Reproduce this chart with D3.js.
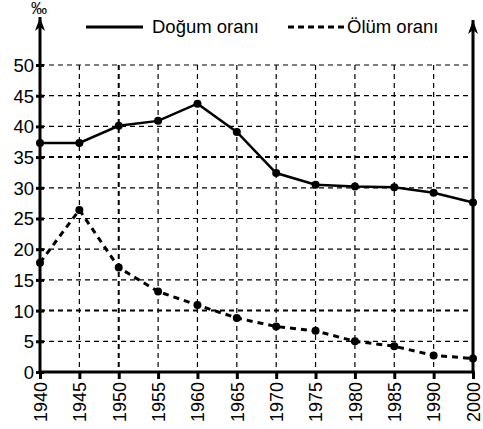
<!DOCTYPE html>
<html>
<head>
<meta charset="utf-8">
<script src="https://d3js.org/d3.v7.min.js"></script>
<style>
  body { margin: 0; background: #fff; }
  text { font-family: "Liberation Sans", Arial, sans-serif; fill: #000; }
</style>
</head>
<body>
<div id="chart"></div>
<script>
// years on the x axis (equally spaced, 2000 follows 1990)
const years = ["1940", "1945", "1950", "1955", "1960", "1965", "1970", "1975", "1980", "1985", "1990", "2000"];
// birth rate (‰)
const birthRate = [37.3, 37.3, 40.1, 40.9, 43.7, 39.1, 32.4, 30.5, 30.2, 30.1, 29.2, 27.6];
// death rate (‰)
const deathRate = [17.8, 26.4, 17.0, 13.1, 10.9, 8.8, 7.4, 6.7, 5.0, 4.2, 2.7, 2.2];
const yTicks = [0, 5, 10, 15, 20, 25, 30, 35, 40, 45, 50];
const boldLines = [10, 35];

const width = 483, height = 429;
const margin = { top: 65, right: 10, bottom: 57, left: 40 };

const svg = d3.select("#chart").append("svg")
  .attr("width", width)
  .attr("height", height);

const x = d3.scalePoint()
  .domain(years)
  .range([margin.left, width - margin.right]);

const y = d3.scaleLinear()
  .domain([0, 50])
  .range([height - margin.bottom, margin.top]);

const x0 = x(years[0]), x1 = x(years[years.length - 1]);
const yBase = y(0);

// horizontal grid
svg.append("g")
  .selectAll("line")
  .data(yTicks.filter(d => d > 0))
  .join("line")
    .attr("x1", x0).attr("x2", x1)
    .attr("y1", d => y(d)).attr("y2", d => y(d))
    .attr("stroke", "#000")
    .attr("stroke-width", d => boldLines.includes(d) ? 2 : 1.2)
    .attr("stroke-dasharray", "5,4");

// vertical grid
svg.append("g")
  .selectAll("line")
  .data(years.slice(1, -1))
  .join("line")
    .attr("x1", d => x(d)).attr("x2", d => x(d))
    .attr("y1", y(50)).attr("y2", yBase)
    .attr("stroke", "#000")
    .attr("stroke-width", d => d === "1950" ? 2 : 1.2)
    .attr("stroke-dasharray", "5,4");

// arrow marker
svg.append("defs").append("marker")
  .attr("id", "arrow")
  .attr("viewBox", "0 0 10 14")
  .attr("refX", 5).attr("refY", 0)
  .attr("markerWidth", 10).attr("markerHeight", 14)
  .attr("markerUnits", "userSpaceOnUse")
  .attr("orient", "0")
  .append("path")
    .attr("d", "M0,14 L5,0 L10,14 L5,10 Z")
    .attr("fill", "#000");

// left and right axis with arrows
[x0, x1].forEach(xx => {
  svg.append("line")
    .attr("x1", xx).attr("x2", xx)
    .attr("y1", yBase + 1).attr("y2", xx === x0 ? 17 : 20)
    .attr("stroke", "#000")
    .attr("stroke-width", 3)
    .attr("marker-end", "url(#arrow)");
});

// y axis ticks and labels
const yAxis = d3.axisLeft(y).tickValues(yTicks).tickSize(0).tickPadding(6);
const gy = svg.append("g")
  .attr("transform", `translate(${x0},0)`)
  .call(yAxis);
gy.select(".domain").remove();
gy.selectAll("text").style("font-size", "18.5px").attr("dy", "0.35em");
gy.selectAll(".tick").append("line")
  .attr("x1", -4).attr("x2", 4)
  .attr("stroke", "#000").attr("stroke-width", 3);

// x axis
const xAxis = d3.axisBottom(x).tickSize(0).tickPadding(0);
const gx = svg.append("g")
  .attr("transform", `translate(0,${yBase})`)
  .call(xAxis);
gx.select(".domain").remove();
gx.append("line")
  .attr("x1", x0 - 1.5).attr("x2", x1 + 1.5)
  .attr("stroke", "#000").attr("stroke-width", 3);
gx.selectAll(".tick").append("line")
  .attr("y1", 0).attr("y2", 7)
  .attr("stroke", "#000").attr("stroke-width", 3);
gx.selectAll(".tick text")
  .style("font-size", "18px")
  .attr("text-anchor", "end")
  .attr("transform", "rotate(-90)")
  .attr("x", -10)
  .attr("y", 0)
  .attr("dy", "0.35em");

// lines
const line = d3.line()
  .x((d, i) => x(years[i]))
  .y(d => y(d));

svg.append("path")
  .datum(birthRate)
  .attr("d", line)
  .attr("fill", "none")
  .attr("stroke", "#000")
  .attr("stroke-width", 2.5);

svg.append("path")
  .datum(deathRate)
  .attr("d", line)
  .attr("fill", "none")
  .attr("stroke", "#000")
  .attr("stroke-width", 3)
  .attr("stroke-dasharray", "6,5");

[birthRate, deathRate].forEach(series => {
  svg.append("g")
    .selectAll("circle")
    .data(series)
    .join("circle")
      .attr("cx", (d, i) => x(years[i]))
      .attr("cy", d => y(d))
      .attr("r", 4)
      .attr("fill", "#000");
});

// unit label
svg.append("text")
  .attr("x", x0 - 1)
  .attr("y", 14)
  .attr("text-anchor", "middle")
  .style("font-size", "16px")
  .text("‰");

// legend
const legend = svg.append("g");
legend.append("line")
  .attr("x1", 86).attr("x2", 143)
  .attr("y1", 27).attr("y2", 27)
  .attr("stroke", "#000").attr("stroke-width", 3);
legend.append("text")
  .attr("x", 152).attr("y", 27).attr("dy", "0.35em")
  .style("font-size", "18.5px")
  .text("Doğum oranı");
legend.append("line")
  .attr("x1", 288).attr("x2", 345)
  .attr("y1", 27).attr("y2", 27)
  .attr("stroke", "#000").attr("stroke-width", 3)
  .attr("stroke-dasharray", "6,4");
legend.append("text")
  .attr("x", 347).attr("y", 27).attr("dy", "0.35em")
  .style("font-size", "18.5px")
  .text("Ölüm oranı");
</script>
</body>
</html>
